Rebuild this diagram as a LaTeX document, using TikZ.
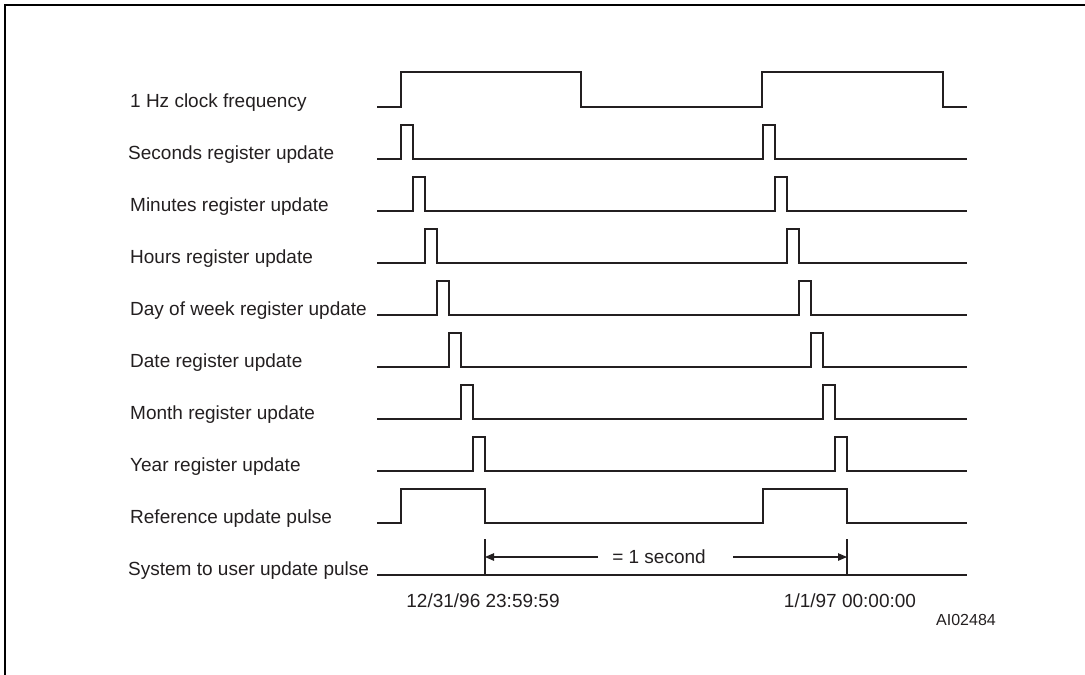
\documentclass[tikz,border=0pt]{standalone}
\usepackage{fontspec}
\setmainfont{Liberation Sans}
\usetikzlibrary{arrows.meta}
\definecolor{ink}{HTML}{231F20}
\begin{document}
\begin{tikzpicture}[x=1pt,y=-1pt,
  wave/.style={line width=2.3pt, line join=miter, draw=ink},
  lbl/.style={anchor=base west, inner sep=0pt, text=ink, font=\fontsize{19}{22}\selectfont},
  tlbl/.style={anchor=base, inner sep=0pt, text=ink, font=\fontsize{19}{22}\selectfont},
  dim/.style={line width=1.1pt, draw=ink, -{Triangle[length=9pt,width=7.5pt]}}]
\useasboundingbox (0,0) rectangle (1085,675);
\draw[line width=2pt, draw=black] (5,675) -- (5,5) -- (1085,5);
% labels
\node[lbl] (l0) at (130,107) {1 Hz clock frequency};
\node[lbl] (l1) at (128,159) {Seconds register update};
\node[lbl] (l2) at (130,211) {Minutes register update};
\node[lbl] (l3) at (130,263) {Hours register update};
\node[lbl] (l4) at (130,315) {Day of week register update};
\node[lbl] (l5) at (130,367) {Date register update};
\node[lbl] (l6) at (130,419) {Month register update};
\node[lbl] (l7) at (130,471) {Year register update};
\node[lbl] (l8) at (130,523) {Reference update pulse};
\node[lbl] (l9) at (128,575) {System to user update pulse};
% clock
\draw[wave] (377,107) -- (401,107) -- (401,72) -- (581,72) -- (581,107) -- (762,107) -- (762,72) -- (943,72) -- (943,107) -- (967,107);
% register pulses
\foreach \i in {1,...,7}{
  \pgfmathsetmacro{\yl}{107+52*\i}
  \pgfmathsetmacro{\yh}{\yl-34}
  \pgfmathsetmacro{\a}{401+12*(\i-1)}
  \pgfmathsetmacro{\b}{\a+12}
  \pgfmathsetmacro{\c}{\a+362}
  \pgfmathsetmacro{\d}{\c+12}
  \draw[wave] (377,\yl) -- (\a,\yl) -- (\a,\yh) -- (\b,\yh) -- (\b,\yl) -- (\c,\yl) -- (\c,\yh) -- (\d,\yh) -- (\d,\yl) -- (967,\yl);
}
% reference update pulse
\draw[wave] (377,523) -- (401,523) -- (401,489) -- (485,489) -- (485,523) -- (763,523) -- (763,489) -- (847,489) -- (847,523) -- (967,523);
% system to user
\draw[wave] (377,575) -- (967,575);
\coordinate (m1t) at (485,539);
\coordinate (m1b) at (485,575);
\coordinate (m2t) at (847,539);
\coordinate (m2b) at (847,575);
\draw[wave] (m1b) -- (m1t);
\draw[wave] (m2b) -- (m2t);
\coordinate (m1) at (485,557);
\coordinate (m2) at (847,557);
\coordinate (gl) at (598,557);
\coordinate (gr) at (733,557);
\node[tlbl] (sec) at (659,563) {= 1 second};
\draw[dim] (gl) -- (m1);
\draw[dim] (gr) -- (m2);
% time stamps
\node[tlbl] (t1) at (483,607) {12/31/96 23:59:59};
\node[tlbl] (t2) at (850,607) {1/1/97 00:00:00};
\node[anchor=base east, inner sep=0pt, text=ink, font=\fontsize{16}{18}\selectfont] (code) at (996,625) {AI02484};
\end{tikzpicture}
\end{document}
